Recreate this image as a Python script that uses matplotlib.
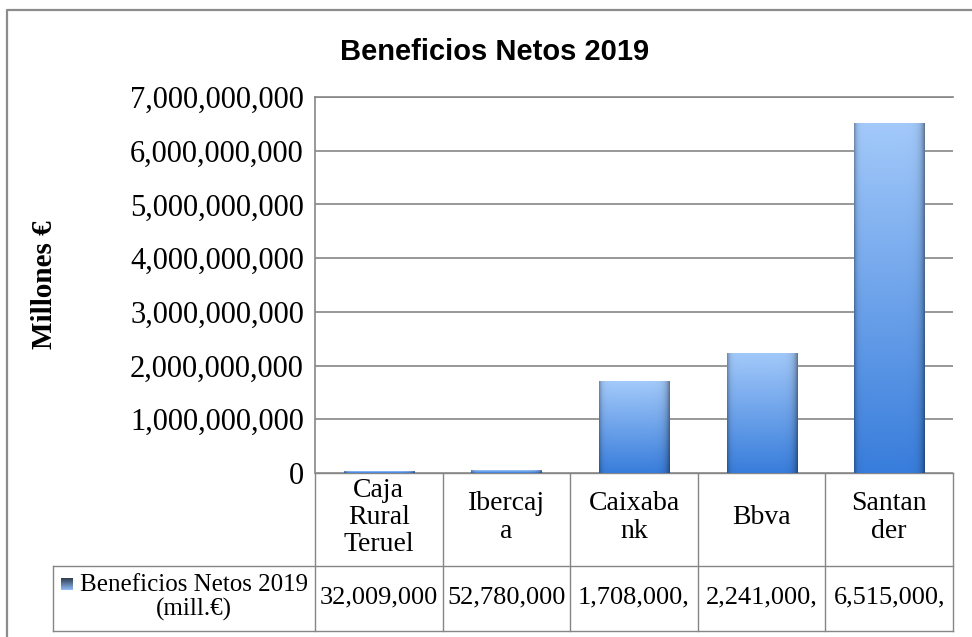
import matplotlib
matplotlib.use("Agg")
import matplotlib.pyplot as plt
import numpy as np

# data
banks = ["Caja\nRural\nTeruel", "Ibercaj\na", "Caixaba\nnk", "Bbva", "Santan\nder"]
profits = [32009000, 52780000, 1708000000, 2241000000, 6515000000]
series_name = "Beneficios Netos 2019\n(mill.€)"
title = "Beneficios Netos 2019"
ylabel = "Millones €"
yticks = [0, 1e9, 2e9, 3e9, 4e9, 5e9, 6e9, 7e9]

W, H = 972, 637
serif = "Liberation Serif"
grey = "#868686"

fig = plt.figure(figsize=(W / 100, H / 100), dpi=100)

# overlay in pixel coords for border and data table
ov = fig.add_axes([0, 0, 1, 1], zorder=0)
ov.set_xlim(0, W)
ov.set_ylim(H, 0)
ov.axis("off")

# plot area (pixels)
px_l, px_r, px_t, px_b = 315, 953, 97, 473
ax = fig.add_axes([px_l / W, 1 - px_b / H, (px_r - px_l) / W, (px_b - px_t) / H], zorder=1)

x = np.arange(len(banks))
bars = ax.bar(x, profits, width=0.55, color="#5b93e0", edgecolor="none", zorder=3)


def gradient_bar(bar):
    bx, by = bar.get_x(), bar.get_y()
    bw, bh = bar.get_width(), bar.get_height()
    t = np.linspace(0, 1, 200)[:, None]
    u = np.linspace(0, 1, 60)[None, :]
    bottom = np.array([0.22, 0.49, 0.86])
    top = np.array([0.64, 0.79, 0.98])
    img = bottom + (top - bottom) * t[..., None]
    img = np.broadcast_to(img, (200, 60, 3)).copy()
    shade = 1 - 0.30 * np.exp(-u / 0.03) - 0.40 * np.exp(-(1 - u) / 0.05)
    img *= shade[..., None]
    im = ax.imshow(np.clip(img, 0, 1), extent=[bx, bx + bw, by, by + bh],
                   origin="lower", aspect="auto", zorder=3, interpolation="bilinear")
    im.set_clip_path(bar)


for b in bars:
    gradient_bar(b)

ax.set_xlim(-0.5, len(banks) - 0.5)
ax.set_ylim(0, 7e9)
ax.set_yticks(yticks)
ax.set_yticklabels([f"{int(v):,}" for v in yticks], fontfamily=serif, fontsize=22)
ax.set_xticks([])
ax.yaxis.grid(True, color=grey, linewidth=1.2, zorder=0)
ax.tick_params(axis="y", length=0, pad=8)
for s in ["right", "bottom"]:
    ax.spines[s].set_visible(False)
ax.spines["top"].set_color(grey)
ax.spines["top"].set_linewidth(1.2)
ax.spines["left"].set_color(grey)
ax.spines["left"].set_linewidth(1.2)
ax.set_ylabel(ylabel, fontfamily=serif, fontweight="bold", fontsize=21, labelpad=0)
ax.yaxis.set_label_coords((58 - px_l) / (px_r - px_l), 0.5)

fig.text(495 / W, 1 - 52 / H, title, ha="center", va="center",
         fontfamily="Liberation Sans", fontweight="bold", fontsize=21)

# outer border
ov.plot([7, 7, W + 5], [H + 5, 10, 10], color="#8c8c8c", lw=1.6, solid_capstyle="butt")

# data table
t_top, t_mid, t_bot, leg_l = 473, 566, 631, 53
n = len(banks)
edges = np.linspace(px_l, px_r, n + 1)
lw = 1.0
ov.plot([px_l, px_r], [t_top, t_top], color=grey, lw=lw)
ov.plot([leg_l, px_r], [t_mid, t_mid], color=grey, lw=lw)
ov.plot([leg_l, px_r], [t_bot, t_bot], color=grey, lw=lw)
ov.plot([leg_l, leg_l], [t_mid, t_bot], color=grey, lw=lw)
for e in edges:
    ov.plot([e, e], [t_top, t_bot], color=grey, lw=lw)

for i in range(n):
    cx = (edges[i] + edges[i + 1]) / 2
    ov.text(cx, (t_top + t_mid) / 2 - 2, banks[i], ha="center", va="center",
            fontfamily=serif, fontsize=20, linespacing=1.12)
    ov.text(cx, (t_mid + t_bot) / 2 - 1, f"{profits[i]:,}"[:10], ha="center", va="center",
            fontfamily=serif, fontsize=19)

# legend key + series name
key = np.linspace(0.35, 1.0, 12)[:, None] * np.array([0.55, 0.72, 0.95])
key = np.broadcast_to(key[:, None, :], (12, 12, 3))
ov.imshow(key, extent=[61, 73, 590, 578], zorder=2, aspect="auto")
ov.set_xlim(0, W)
ov.set_ylim(H, 0)
ov.text(194, (t_mid + t_bot) / 2 - 1, series_name, ha="center", va="center",
        fontfamily=serif, fontsize=18, linespacing=1.12)

fig.savefig("out.png", dpi=100)
